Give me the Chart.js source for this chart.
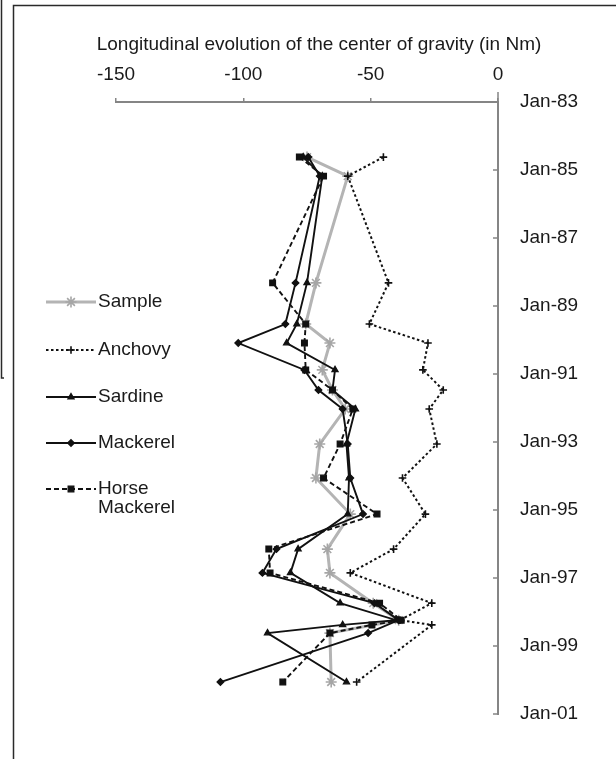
<!DOCTYPE html>
<html>
<head>
<meta charset="utf-8">
<script src="https://cdn.jsdelivr.net/npm/chart.js@4.4.1/dist/chart.umd.min.js"></script>
<style>
  html, body { margin: 0; padding: 0; background: #ffffff; }
  #wrap { width: 616px; height: 759px; position: relative; }
</style>
</head>
<body>
<div id="wrap"><canvas id="chart" width="616" height="759"></canvas></div>
<script>
// Survey dates, as decimal years (vertical time axis, top = 1983)
const surveyDates = [1984.62, 1985.18, 1988.32, 1989.53, 1990.09, 1990.88, 1991.47, 1992.03, 1993.06,
                     1994.06, 1995.12, 1996.15, 1996.85, 1997.74, 1998.24, 1998.38, 1998.62, 2000.06];

// Longitudinal position of the centre of gravity (Nm) at each survey; null = no value
const sample        = [-75, -59, -71.5, -75.5, -66, -69, -65, -60, -70, -71.5, -58, -67, -66, -49, -39, null, -66, -65.5];
const anchovy       = [-45, -59, -43, -50.5, -27.5, -29.5, -21.5, -27, -24, -37.5, -28.5, -41, -58, -26, -38.5, -26, null, -55.5];
const sardine       = [-76.5, -69, -75, -79, -83, -64, -65, -56, -59.5, -58.5, -59, -78.5, -81.5, -62, -40, -61, -90.5, -59.5];
const mackerel      = [-74.5, -70, -79.5, -83.5, -102, -76, -70.5, -61, -59, -58, -53, -87, -92.5, -48.5, -39, null, -51, -109];
const horseMackerel = [-78, -68.5, -88.5, -75.5, -76, -75.5, -65, -57, -62, -68.5, -47.5, -90, -89.5, -46.5, -38, -49.5, -66, -84.5];

const seriesNames = ['Sample', 'Anchovy', 'Sardine', 'Mackerel', 'Horse Mackerel'];
const legendLines = [['Sample'], ['Anchovy'], ['Sardine'], ['Mackerel'], ['Horse', 'Mackerel']];
const dateTickYears  = [1983, 1985, 1987, 1989, 1991, 1993, 1995, 1997, 1999, 2001];
const dateTickLabels = ['Jan-83', 'Jan-85', 'Jan-87', 'Jan-89', 'Jan-91', 'Jan-93', 'Jan-95', 'Jan-97', 'Jan-99', 'Jan-01'];
const axisTitle = 'Longitudinal evolution of the center of gravity (in Nm)';

const FONT = '"Liberation Sans", Arial, sans-serif';
const TEXT = '#1a1a1a';
const AXIS = '#858585';

function toPoints(values) {
  return surveyDates
    .map((d, i) => ({ x: values[i], y: d }))
    .filter(p => p.x !== null);
}

function dateLabel(value) {
  const i = dateTickYears.indexOf(Math.round(value));
  return i >= 0 ? dateTickLabels[i] : '';
}

function series(label, values, style) {
  return Object.assign({
    label,
    data: toPoints(values),
    showLine: true,
    fill: false,
    tension: 0,
    borderColor: '#111',
    pointBorderColor: '#111',
    pointBackgroundColor: '#111',
    borderWidth: 1.9,
    pointBorderWidth: 1.3,
    pointRadius: 3.2,
    pointHoverRadius: 3.2,
    clip: false,
    order: 0
  }, style);
}

const datasets = [
  series(seriesNames[0], sample, {
    borderColor: '#b4b4b4', pointBorderColor: '#a6a6a6', pointBackgroundColor: '#a6a6a6',
    borderWidth: 3, pointStyle: 'star', pointRadius: 5.5, pointBorderWidth: 1.6, order: 10
  }),
  series(seriesNames[1], anchovy, {
    borderDash: [2.5, 2.5], borderWidth: 2, pointStyle: 'cross', pointRadius: 3.8, pointBorderWidth: 1.6
  }),
  series(seriesNames[2], sardine, { pointStyle: 'triangle', pointRadius: 3.5 }),
  series(seriesNames[3], mackerel, { pointStyle: 'rectRot', pointRadius: 3.3 }),
  series(seriesNames[4], horseMackerel, {
    borderDash: [5, 3], pointStyle: 'rect', pointRadius: 4
  })
];

// Frame, inward date ticks, title and the legend column on the left
const decorations = {
  id: 'decorations',
  afterDraw(chart) {
    const ctx = chart.ctx;
    const xs = chart.scales.x, ys = chart.scales.y;
    const area = chart.chartArea;
    ctx.save();

    // panel frame
    ctx.strokeStyle = '#2a2a2a';
    ctx.lineWidth = 1.5;
    ctx.beginPath();
    ctx.moveTo(1.5, 0); ctx.lineTo(1.5, 378); ctx.lineTo(4, 378);
    ctx.moveTo(13.5, 759); ctx.lineTo(13.5, 5.5); ctx.lineTo(616, 5.5);
    ctx.stroke();

    // short ticks on the inner side of the date axis
    ctx.strokeStyle = AXIS;
    ctx.lineWidth = 1.5;
    ctx.beginPath();
    ys.ticks.forEach(t => {
      if (t.value === ys.min) return;
      const py = ys.getPixelForValue(t.value);
      ctx.moveTo(area.right - 5, py); ctx.lineTo(area.right, py);
    });
    const x0 = xs.getPixelForValue(0);
    ctx.moveTo(x0, area.top - 10); ctx.lineTo(x0, area.top);
    ctx.stroke();

    // axis title
    ctx.fillStyle = TEXT;
    ctx.font = '19px ' + FONT;
    ctx.textAlign = 'center';
    ctx.textBaseline = 'middle';
    ctx.fillText(axisTitle, 319, 45);

    // legend
    const rows = [302, 350, 397, 443, 489];
    chart.data.datasets.forEach((ds, i) => {
      const y = rows[i];
      ctx.save();
      ctx.strokeStyle = ds.borderColor;
      ctx.lineWidth = ds.borderWidth;
      ctx.setLineDash(ds.borderDash || []);
      ctx.beginPath(); ctx.moveTo(46, y); ctx.lineTo(96, y); ctx.stroke();
      ctx.setLineDash([]);
      ctx.strokeStyle = ds.pointBorderColor;
      ctx.fillStyle = ds.pointBackgroundColor;
      ctx.lineWidth = ds.pointBorderWidth;
      Chart.helpers.drawPoint(ctx, {
        pointStyle: ds.pointStyle, radius: ds.pointRadius, rotation: 0, borderWidth: ds.pointBorderWidth
      }, 71, y);
      ctx.fillStyle = TEXT;
      ctx.font = '19px ' + FONT;
      ctx.textAlign = 'left';
      ctx.textBaseline = 'middle';
      legendLines[i].forEach((line, k) => ctx.fillText(line, 98, y + k * 19));
      ctx.restore();
    });
    ctx.restore();
  }
};

new Chart(document.getElementById('chart'), {
  type: 'scatter',
  data: { datasets },
  plugins: [decorations],
  options: {
    responsive: false,
    animation: false,
    events: [],
    layout: { padding: { left: 116, right: 0, top: 0, bottom: 45 } },
    plugins: { legend: { display: false }, tooltip: { enabled: false } },
    scales: {
      x: {
        type: 'linear',
        position: 'top',
        min: -150, max: 0,
        ticks: { stepSize: 50, padding: 12, color: TEXT, font: { family: FONT, size: 19 } },
        grid: { display: true, drawOnChartArea: false, drawTicks: true, tickLength: 4, color: AXIS, lineWidth: 1.5 },
        border: { display: true, color: AXIS, width: 2 },
        afterFit(scale) { scale.height = 102; }
      },
      y: {
        type: 'linear',
        position: 'right',
        reverse: true,
        min: 1983, max: 2001,
        ticks: {
          stepSize: 2, padding: 22, color: TEXT, font: { family: FONT, size: 19 },
          callback: (value) => dateLabel(value)
        },
        grid: { display: true, drawOnChartArea: false, drawTicks: false },
        border: { display: true, color: AXIS, width: 2 },
        afterFit(scale) { scale.width = 118; }
      }
    }
  }
});
</script>
</body>
</html>
